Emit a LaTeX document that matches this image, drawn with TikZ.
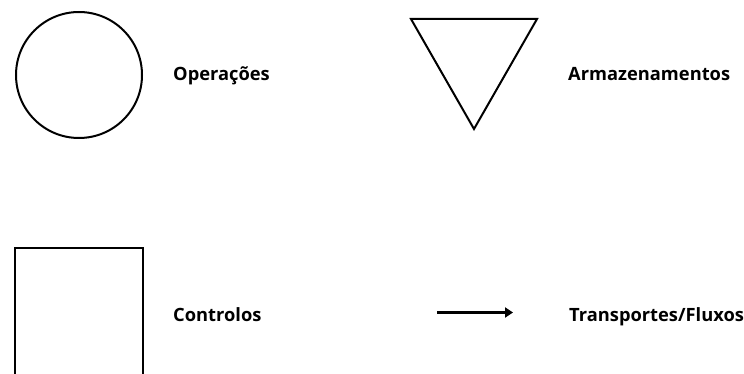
\documentclass[tikz,border=0pt]{standalone}
\usepackage{fontspec}
\setmainfont{Open Sans}
\usetikzlibrary{arrows.meta}
\begin{document}
\begin{tikzpicture}[x=1pt,y=-1pt,
  shapeline/.style={draw=black,line width=2pt},
  legendtext/.style={anchor=base west,inner sep=0pt,font=\fontsize{18.3}{20}\selectfont\bfseries,text=black}]
\clip (0,0) rectangle (744,374);
\useasboundingbox (0,0) rectangle (744,374);
\fill[white] (0,0) rectangle (744,374);
% circle
\node[shapeline,circle,minimum size=126pt,inner sep=0pt] (op) at (79,75) {};
\node[legendtext] (optxt) at (173,81) {Operações};
% triangle
\coordinate (tA) at (411,19);
\coordinate (tB) at (537,19);
\coordinate (tC) at (474,129);
\draw[shapeline,line join=miter] (tA) -- (tB) -- (tC) -- cycle;
\node[legendtext] (armtxt) at (568,81) {Armazenamentos};
% rectangle
\coordinate (r1) at (15,248);
\coordinate (r2) at (143,390);
\draw[shapeline] (r1) rectangle (r2);
\node[legendtext] (ctltxt) at (173,321) {Controlos};
% arrow
\coordinate (a1) at (437,312.5);
\coordinate (a2) at (513,312.5);
\draw[line width=2.3pt,-{Triangle[length=8pt,width=10pt]}] (a1) -- (a2);
\node[legendtext] (trtxt) at (569,321) {Transportes/Fluxos};
\end{tikzpicture}
\end{document}
